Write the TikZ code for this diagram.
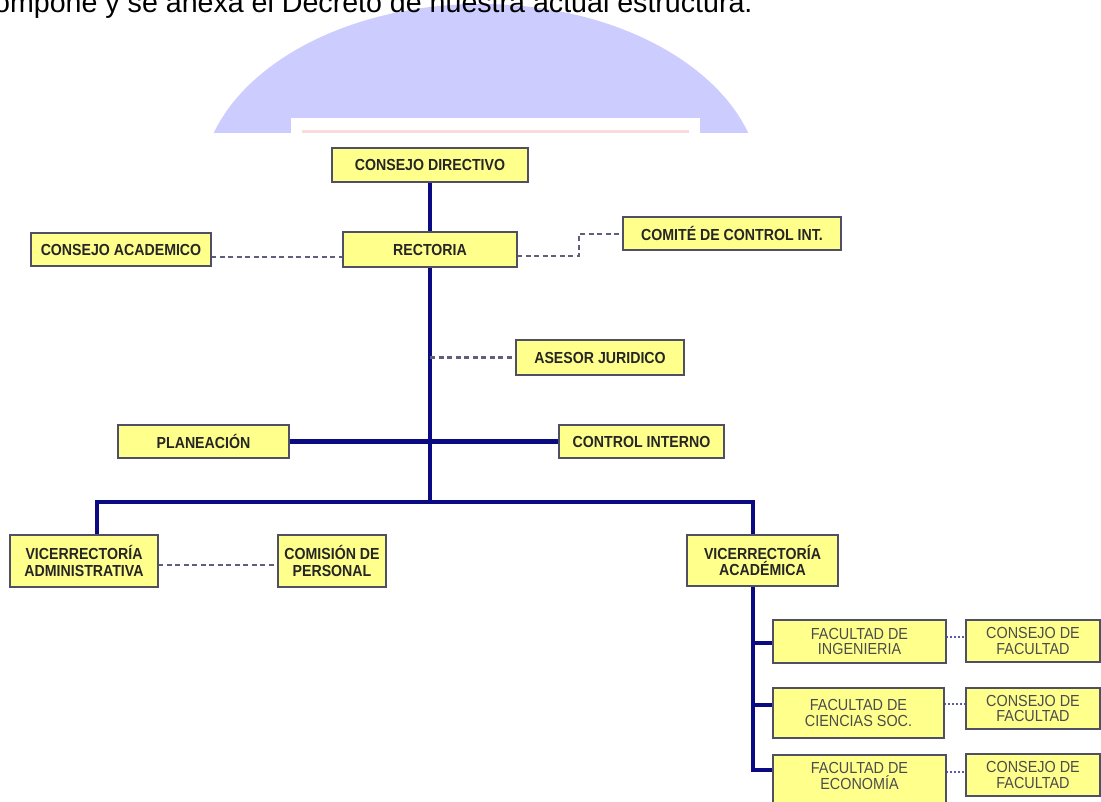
\documentclass[tikz,border=0pt]{standalone}
\usepackage{fontspec}
\setmainfont{Liberation Sans}
\newfontfamily\bfont[FakeStretch=0.885]{Liberation Sans Bold}
\newfontfamily\rfont[FakeStretch=0.9]{Liberation Sans}
\pgfdeclarelayer{bg}
\pgfdeclarelayer{lines}
\pgfsetlayers{bg,lines,main}
\definecolor{boxfill}{RGB}{255,255,140}
\definecolor{boxline}{RGB}{80,80,100}
\definecolor{navyc}{RGB}{10,10,130}
\definecolor{dashc}{RGB}{95,95,125}
\definecolor{dotc}{RGB}{90,90,170}
\definecolor{domec}{RGB}{204,204,255}
\definecolor{pinkc}{RGB}{250,218,218}
\tikzset{
  orgbox/.style={draw=boxline, fill=boxfill, line width=1.6pt, inner sep=0pt, outer sep=0pt,
    align=center, text=black!85, font={\bfont\fontsize{16}{16.5}\selectfont}},
  facbox/.style={orgbox, text=black!70, font={\rfont\fontsize{16}{15.5}\selectfont}},
  factext/.style={inner sep=0pt, align=center, text=black!70, font={\rfont\fontsize{16}{15.5}\selectfont}},
  bl/.style={draw=navyc, line width=4.5pt},
  dl/.style={draw=dashc, line width=2.2pt, dash pattern=on 5pt off 3.5pt},
  dotl/.style={draw=dotc, line width=2.2pt, dash pattern=on 2pt off 2pt},
}
\begin{document}
\begin{tikzpicture}[x=1pt,y=-1pt]
\useasboundingbox (0,0) rectangle (1101,802);
\begin{pgfonlayer}{bg}
  \fill[white] (0,0) rectangle (1101,802);
  % background logo fragment above the chart
  \begin{scope}
    \clip (0,0) rectangle (1101,133);
    \fill[domec] (481,188) ellipse [x radius=280, y radius=184];
    \fill[white] (291,118) rectangle (700,140);
    \fill[pinkc] (302,130) rectangle (689,140);
  \end{scope}
\end{pgfonlayer}
\node[anchor=base west, inner sep=0pt, font=\fontsize{28.6}{30}\selectfont] (hdr) at (-6,13)
  {ompone y se anexa el Decreto de nuestra actual estructura.};

% boxes
\node[orgbox, minimum width=196pt, minimum height=34pt] (cd) at (430,165) {CONSEJO DIRECTIVO};
\node[orgbox, minimum width=174pt, minimum height=35pt] (rect) at (430,249.5) {RECTORIA};
\node[orgbox, minimum width=180pt, minimum height=33pt] (cacad) at (121,249.5) {CONSEJO ACADEMICO};
\node[orgbox, minimum width=218pt, minimum height=33pt] (comite) at (732,233.5) {COMITÉ DE CONTROL INT.};
\node[orgbox, minimum width=168pt, minimum height=35pt] (asesor) at (600,357.5) {ASESOR JURIDICO};
\node[orgbox, minimum width=171pt, minimum height=33pt] (plan) at (203.5,441.5) {PLANEACIÓN};
\node[orgbox, minimum width=165pt, minimum height=33pt] (ctrl) at (641.5,441.5) {CONTROL INTERNO};
\node[orgbox, minimum width=148pt, minimum height=52pt] (vadm) at (84,561) {VICERRECTORÍA\\ADMINISTRATIVA};
\node[orgbox, minimum width=108pt, minimum height=52pt] (comis) at (332,561) {COMISIÓN DE\\PERSONAL};
\node[orgbox, minimum width=151pt, minimum height=51pt] (vaca) at (762.5,560.5) {VICERRECTORÍA\\ACADÉMICA};
\node[facbox, minimum width=173pt, minimum height=43pt] (fing) at (859.5,641.5) {FACULTAD DE\\INGENIERIA};
\node[facbox, minimum width=134pt, minimum height=42pt] (cf1) at (1033,641) {CONSEJO DE\\FACULTAD};
\node[facbox, minimum width=171pt, minimum height=50pt] (fcs) at (858.5,713) {FACULTAD DE\\CIENCIAS SOC.};
\node[facbox, minimum width=134pt, minimum height=41pt] (cf2) at (1033,708.5) {CONSEJO DE\\FACULTAD};
\node[facbox, minimum width=173pt, minimum height=53pt] (feco) at (859.5,781.5) {};
\node[factext] (fecotxt) at (859.5,776) {FACULTAD DE\\ECONOMÍA};
\node[facbox, minimum width=134pt, minimum height=42pt] (cf3) at (1033,775) {CONSEJO DE\\FACULTAD};

% connectors
\coordinate (hub) at (430,502);
\coordinate (barL) at (97,502);
\coordinate (barR) at (753,502);
\coordinate (tee1) at (753,643);
\coordinate (tee2) at (753,705);
\coordinate (tee3) at (753,770);
\coordinate (k1) at (579,256);
\coordinate (k2) at (579,234);
\begin{pgfonlayer}{lines}
  \draw[bl] (cd.south) -- (hub);
  \draw[bl] (plan) -- (ctrl);
  \draw[bl] (vadm.north -| barL) -- (barL) -- (barR) -- (vaca.north -| barR);
  \draw[bl] (vaca.south -| barR) -- (tee3) -- (feco.west |- tee3);
  \draw[bl] (tee1) -- (fing.west |- tee1);
  \draw[bl] (tee2) -- (fcs.west |- tee2);
  \draw[dl] (cacad.east |- 0,257) -- (rect.west |- 0,257);
  \draw[dl] (rect.east |- k1) -- (k1) -- (k2) -- (comite.west |- k2);
  \draw[dl] (hub |- asesor.west) -- (asesor.west);
  \draw[dl] (vadm.east |- 0,565) -- (comis.west |- 0,565);
  \draw[dotl] (fing.east |- 0,637) -- (cf1.west |- 0,637);
  \draw[dotl] (fcs.east |- 0,704) -- (cf2.west |- 0,704);
  \draw[dotl] (feco.east |- 0,772) -- (cf3.west |- 0,772);
\end{pgfonlayer}
\end{tikzpicture}
\end{document}
